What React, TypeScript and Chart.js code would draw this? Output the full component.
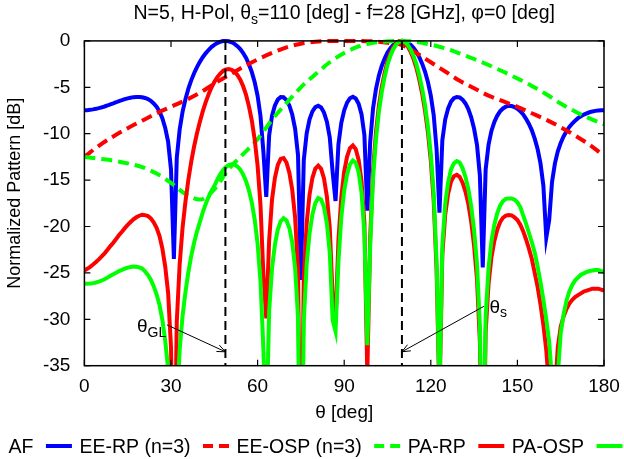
import React, { useEffect, useRef } from "react";
import { Chart, registerables } from "chart.js";

Chart.register(...registerables);

const FONT = "'Liberation Sans', Arial, Helvetica, sans-serif";

// theta grid [deg] for the array-factor based curves
const THETA = [
  0, 1, 2, 3, 4, 5, 6, 7, 8, 9,
  10, 11, 12, 13, 14, 15, 16, 17, 18, 19,
  20, 21, 22, 23, 24, 25, 26, 27, 28, 29,
  30, 31, 32, 33, 34, 35, 36, 37, 38, 39,
  40, 41, 42, 43, 44, 45, 46, 47, 48, 49,
  50, 51, 52, 53, 54, 55, 56, 57, 58, 59,
  60, 61, 62, 63, 64, 65, 66, 67, 68, 69,
  70, 71, 72, 73, 74, 75, 76, 77, 78, 79,
  80, 81, 82, 83, 84, 85, 86, 87, 88, 89,
  90, 91, 92, 93, 94, 95, 96, 97, 98, 99,
  100, 101, 102, 103, 104, 105, 106, 107, 108, 109,
  110, 111, 112, 113, 114, 115, 116, 117, 118, 119,
  120, 121, 122, 123, 124, 125, 126, 127, 128, 129,
  130, 131, 132, 133, 134, 135, 136, 137, 138, 139,
  140, 141, 142, 143, 144, 145, 146, 147, 148, 149,
  150, 151, 152, 153, 154, 155, 156, 157, 158, 159,
  160, 161, 162, 163, 164, 165, 166, 167, 168, 169,
  170, 171, 172, 173, 174, 175, 176, 177, 178, 179, 180,
];

// AF [dB]
const AF = [
  -7.47, -7.46, -7.43, -7.38, -7.32, -7.25, -7.16, -7.07, -6.96, -6.83,
  -6.73, -6.61, -6.48, -6.39, -6.28, -6.19, -6.12, -6.06, -6.04, -6.04,
  -6.07, -6.15, -6.27, -6.46, -6.74, -7.1, -7.6, -8.34, -9.38, -10.86,
  -13.85, -23.5, -12.6, -9.55, -7.65, -6.29, -5.17, -4.25, -3.48, -2.83,
  -2.26, -1.76, -1.34, -0.98, -0.67, -0.43, -0.24, -0.11, -0.02, 0,
  -0.04, -0.15, -0.32, -0.57, -0.89, -1.31, -1.84, -2.52, -3.36, -4.46,
  -5.92, -8.1, -11.9, -16.8, -10.2, -8.05, -6.95, -6.32, -6.06, -6.07,
  -6.38, -6.96, -7.93, -9.48, -12.3, -25.75, -12.85, -9.95, -8.44, -7.59,
  -7.13, -6.99, -7.18, -7.72, -8.71, -10.4, -14.15, -17.25, -11.15, -8.82,
  -7.47, -6.65, -6.18, -6.03, -6.21, -6.77, -7.9, -10.15, -18.3, -10.9,
  -7.25, -5.2, -3.75, -2.7, -1.9, -1.25, -0.79, -0.44, -0.19, -0.05,
  0, -0.05, -0.19, -0.42, -0.75, -1.18, -1.75, -2.45, -3.32, -4.43,
  -5.9, -7.98, -11.65, -18.5, -10.7, -8.45, -7.27, -6.55, -6.18, -6.04,
  -6.08, -6.33, -6.74, -7.34, -8.23, -9.47, -11.2, -14.5, -24.4, -13.85,
  -11.2, -9.7, -8.75, -8.07, -7.59, -7.28, -7.09, -7.0, -7.02, -7.13,
  -7.31, -7.58, -7.93, -8.39, -8.95, -9.64, -10.53, -11.65, -13.2, -15.6,
  -21.2, -19.35, -15.2, -13.2, -11.9, -11.0, -10.3, -9.73, -9.27, -8.9,
  -8.59, -8.33, -8.12, -7.94, -7.81, -7.69, -7.6, -7.54, -7.5, -7.48, -7.47,
];

// PA-RP [dB]
const PA_RP = [
  -24.73, -24.56, -24.35, -24.1, -23.83, -23.54, -23.22, -22.89, -22.51, -22.11,
  -21.75, -21.34, -20.92, -20.56, -20.18, -19.83, -19.52, -19.23, -19.01, -18.84,
  -18.73, -18.77, -18.87, -19.13, -19.55, -20.15, -21.01, -22.36, -24.32, -27.14,
  -33.0, -52.2, -30.28, -24.07, -20.15, -17.33, -14.98, -13.03, -11.38, -9.96,
  -8.72, -7.6, -6.62, -5.78, -5.04, -4.43, -3.93, -3.54, -3.24, -3.08,
  -3.03, -3.11, -3.31, -3.68, -4.18, -4.89, -5.82, -7.05, -8.58, -10.66,
  -13.43, -17.68, -25.15, -29.9, -21.5, -17.08, -14.75, -13.37, -12.71, -12.62,
  -13.1, -14.19, -16.04, -19.06, -24.61, -51.4, -25.54, -19.65, -16.55, -14.75,
  -13.76, -13.44, -13.79, -14.82, -16.78, -20.12, -27.59, -30.3, -21.52, -16.82,
  -14.08, -12.46, -11.55, -11.27, -11.66, -12.81, -15.09, -19.62, -35.95, -21.17,
  -13.9, -9.86, -7.02, -4.98, -3.44, -2.2, -1.33, -0.69, -0.26, -0.03,
  0, -0.2, -0.59, -1.17, -1.93, -2.9, -4.16, -5.67, -7.52, -9.85,
  -12.9, -17.2, -24.68, -38.52, -23.06, -18.7, -16.47, -15.17, -14.58, -14.43,
  -14.66, -15.28, -16.23, -17.56, -19.48, -22.08, -25.68, -32.41, -52.34, -31.37,
  -26.2, -23.34, -21.58, -20.35, -19.54, -19.06, -18.82, -18.77, -18.8, -19.0,
  -19.3, -19.8, -20.5, -21.4, -22.4, -23.5, -25.0, -26.5, -28.4, -30.6,
  -33.3, -37.5, -48.0, -38.0, -33.0, -30.8, -29.7, -28.9, -28.3, -27.9,
  -27.6, -27.4, -27.2, -27.0, -26.9, -26.8, -26.7, -26.7, -26.7, -26.8, -26.9,
];

// PA-OSP [dB]
const PA_OSP = [
  -26.13, -26.16, -26.15, -26.1, -26.03, -25.94, -25.82, -25.69, -25.51, -25.31,
  -25.15, -24.98, -24.8, -24.68, -24.54, -24.43, -24.36, -24.31, -24.33, -24.4,
  -24.53, -24.84, -25.21, -25.74, -26.43, -27.3, -28.43, -30.05, -32.28, -35.37,
  -41.5, -60.94, -39.28, -33.32, -29.65, -27.08, -24.94, -23.2, -21.76, -20.55,
  -19.52, -18.48, -17.59, -16.83, -16.18, -15.65, -14.98, -14.41, -13.94, -13.6,
  -13.38, -13.29, -13.33, -13.53, -13.87, -14.41, -15.12, -16.12, -17.43, -19.28,
  -21.83, -25.88, -33.16, -42.64, -29.12, -24.5, -21.94, -20.32, -19.43, -19.1,
  -19.35, -20.16, -21.74, -24.48, -29.76, -56.3, -30.18, -24.06, -20.72, -18.69,
  -17.46, -16.94, -17.08, -17.91, -19.66, -22.8, -30.1, -31.3, -23.82, -19.0,
  -16.13, -14.37, -13.31, -12.89, -13.13, -14.14, -16.32, -20.76, -32.8, -22.12,
  -14.75, -10.61, -7.67, -5.53, -3.89, -2.55, -1.61, -0.9, -0.4, -0.1,
  0, -0.12, -0.43, -0.93, -1.61, -2.5, -3.7, -5.15, -6.94, -9.21,
  -12.2, -16.41, -23.8, -37.55, -22.0, -17.55, -15.24, -13.86, -13.19, -12.96,
  -13.11, -13.71, -14.64, -15.95, -17.85, -20.43, -24.02, -30.74, -50.66, -29.68,
  -24.5, -21.62, -19.84, -18.59, -17.76, -17.26, -17.02, -16.97, -16.97, -17.1,
  -17.4, -17.9, -18.8, -19.7, -20.7, -21.7, -22.8, -24.3, -26.0, -27.9,
  -30.0, -32.4, -36.5, -48.0, -36.0, -31.5, -29.5, -28.0, -27.0, -26.3,
  -25.8, -25.5, -25.2, -25.05, -24.9, -24.8, -24.75, -24.7, -24.7, -24.8, -24.9,
];

// element patterns, sampled every 5 deg
const EE_THETA = [
  0, 5, 10, 15, 20, 25, 30, 35, 40, 45, 50, 55, 60, 65, 70, 75, 80, 85, 90,
  95, 100, 105, 110, 115, 120, 125, 130, 135, 140, 145, 150, 155, 160, 165, 170, 175, 180,
];
const EE_RP = [
  -12.5, -11.3, -10.3, -9.4, -8.6, -7.8, -7.1, -6.4, -5.6, -4.6, -3.7, -2.8, -2.0, -1.3, -0.7, -0.3, -0.1, 0, 0,
  0, -0.05, -0.2, -0.45, -1.3, -2.3, -3.3, -4.3, -5.1, -5.9, -6.5, -7.1, -7.8, -8.5, -9.3, -10.2, -11.2, -12.4,
];
const EE_OSP = [
  -12.5, -12.7, -12.9, -13.2, -13.6, -14.3, -15.3, -16.5, -17.1, -16.0, -13.8, -12.2, -10.6, -8.5, -6.7, -5.0, -3.6, -2.3, -1.3,
  -0.6, -0.2, -0.05, 0, -0.1, -0.4, -0.8, -1.35, -1.95, -2.6, -3.3, -4.05, -4.85, -5.75, -6.75, -7.6, -8.35, -9.0,
];

const X_TICKS = [0, 30, 60, 90, 120, 150, 180];
const Y_TICKS = [0, -5, -10, -15, -20, -25, -30, -35];

const THETA_GL = 48.85;
const THETA_S = 110;

const SERIES = [
  { label: "AF", xs: THETA, ys: AF, color: "#0000ff", dash: [] as number[] },
  { label: "EE-RP (n=3)", xs: EE_THETA, ys: EE_RP, color: "#ff0000", dash: [11, 6] },
  { label: "EE-OSP (n=3)", xs: EE_THETA, ys: EE_OSP, color: "#00ff00", dash: [11, 6] },
  { label: "PA-RP", xs: THETA, ys: PA_RP, color: "#ff0000", dash: [] as number[] },
  { label: "PA-OSP", xs: THETA, ys: PA_OSP, color: "#00ff00", dash: [] as number[] },
];

// marker annotations (data coordinates)
const MARKERS = [
  { theta: THETA_GL, sub: "GL", label: [18.2, -31.4], tail: [28.6, -30.6], tipY: -33.5 },
  { theta: THETA_S, sub: "s", label: [140.3, -29.3], tail: [138.4, -28.6], tipY: -33.5 },
];

type Run = { t: string; sub?: boolean };

function drawRuns(ctx: CanvasRenderingContext2D, runs: Run[], x: number, y: number, size: number, subSize: number, subDy: number, align: "left" | "center") {
  const widths = runs.map((r) => {
    ctx.font = `${r.sub ? subSize : size}px ${FONT}`;
    return ctx.measureText(r.t).width;
  });
  const total = widths.reduce((a, b) => a + b, 0);
  let cx = align === "center" ? x - total / 2 : x;
  ctx.textAlign = "left";
  ctx.textBaseline = "alphabetic";
  runs.forEach((r, i) => {
    ctx.font = `${r.sub ? subSize : size}px ${FONT}`;
    ctx.fillText(r.t, cx, r.sub ? y + subDy : y);
    cx += widths[i];
  });
}

const decorPlugin = {
  id: "decor",
  afterDatasetsDraw(chart: any) {
    const { ctx, chartArea, scales } = chart;
    const { left, right, top, bottom } = chartArea;
    const xs = scales.x;
    const ys = scales.y;
    ctx.save();
    ctx.setLineDash([]);
    ctx.strokeStyle = "#000";
    ctx.fillStyle = "#000";
    // border
    ctx.lineWidth = 1.5;
    ctx.strokeRect(left, top, right - left, bottom - top);
    // inward (mirrored) tick marks
    const tl = 6;
    ctx.lineWidth = 1.2;
    ctx.beginPath();
    X_TICKS.forEach((t) => {
      const px = xs.getPixelForValue(t);
      ctx.moveTo(px, bottom);
      ctx.lineTo(px, bottom - tl);
      ctx.moveTo(px, top);
      ctx.lineTo(px, top + tl);
    });
    Y_TICKS.forEach((v) => {
      const py = ys.getPixelForValue(v);
      ctx.moveTo(left, py);
      ctx.lineTo(left + tl, py);
      ctx.moveTo(right, py);
      ctx.lineTo(right - tl, py);
    });
    ctx.stroke();

    // annotation arrows + labels
    MARKERS.forEach((m) => {
      const tx = xs.getPixelForValue(m.tail[0]);
      const ty = ys.getPixelForValue(m.tail[1]);
      const hx = xs.getPixelForValue(m.theta);
      const hy = ys.getPixelForValue(m.tipY);
      ctx.lineWidth = 1;
      ctx.beginPath();
      ctx.moveTo(tx, ty);
      ctx.lineTo(hx, hy);
      const ang = Math.atan2(hy - ty, hx - tx);
      const L = 9;
      const a = 0.4;
      ctx.moveTo(hx - L * Math.cos(ang - a), hy - L * Math.sin(ang - a));
      ctx.lineTo(hx, hy);
      ctx.lineTo(hx - L * Math.cos(ang + a), hy - L * Math.sin(ang + a));
      ctx.stroke();
      const lx = xs.getPixelForValue(m.label[0]);
      const ly = ys.getPixelForValue(m.label[1]);
      drawRuns(ctx, [{ t: "θ" }, { t: m.sub, sub: true }], lx, ly, 19, 14, 4.5, "left");
    });
    ctx.restore();
  },
  afterDraw(chart: any) {
    const { ctx, chartArea } = chart;
    const { left, right, top, bottom } = chartArea;
    const cx = (left + right) / 2;
    ctx.save();
    ctx.fillStyle = "#000";
    // title
    drawRuns(
      ctx,
      [{ t: "N=5, H-Pol, θ" }, { t: "s", sub: true }, { t: "=110 [deg] - f=28 [GHz], φ=0 [deg]" }],
      cx, 19, 19.5, 14, 5, "center"
    );
    // x-axis title
    drawRuns(ctx, [{ t: "θ [deg]" }], cx, 418, 19, 14, 0, "center");
    // y-axis title
    ctx.save();
    ctx.translate(15, (top + bottom) / 2 - 10);
    ctx.rotate(-Math.PI / 2);
    ctx.font = `18px ${FONT}`;
    ctx.textAlign = "center";
    ctx.textBaseline = "middle";
    ctx.fillText("Normalized Pattern [dB]", 0, 0);
    ctx.restore();

    // legend: text followed by line sample
    const size = 19.5;
    const yBase = 453;
    const yLine = 446;
    let x = 8.5;
    ctx.textAlign = "left";
    ctx.textBaseline = "alphabetic";
    SERIES.forEach((s) => {
      ctx.font = `${size}px ${FONT}`;
      ctx.fillStyle = "#000";
      ctx.fillText(s.label, x, yBase);
      x += ctx.measureText(s.label).width + 12.5;
      ctx.strokeStyle = s.color;
      ctx.lineWidth = 4;
      ctx.setLineDash(s.dash.length ? [10, 6] : []);
      ctx.beginPath();
      ctx.moveTo(x, yLine);
      ctx.lineTo(x + 26, yLine);
      ctx.stroke();
      x += 26 + 7.5;
    });
    ctx.restore();
  },
};

export default function App() {
  const ref = useRef<HTMLCanvasElement | null>(null);

  useEffect(() => {
    if (!ref.current) return;
    const datasets: any[] = SERIES.map((s, i) => ({
      label: s.label,
      data: s.xs.map((x, k) => ({ x, y: s.ys[k] })),
      borderColor: s.color,
      backgroundColor: s.color,
      borderWidth: 4,
      borderDash: s.dash,
      pointRadius: 0,
      pointHoverRadius: 0,
      fill: false,
      tension: 0,
      cubicInterpolationMode: s.dash.length ? "monotone" : "default",
      order: SERIES.length - i,
      clip: { left: 0, top: 3, right: 0, bottom: 0 },
    }));
    [THETA_GL, THETA_S].forEach((t) => {
      datasets.push({
        label: "",
        data: [
          { x: t, y: Y_TICKS[0] },
          { x: t, y: Y_TICKS[Y_TICKS.length - 1] },
        ],
        borderColor: "#000",
        borderWidth: 2,
        borderDash: [9, 5],
        pointRadius: 0,
        fill: false,
        order: 0,
      });
    });

    const chart = new Chart(ref.current, {
      type: "line",
      data: { datasets },
      options: {
        animation: false,
        responsive: false,
        events: [],
        layout: { padding: { left: 0, right: 20, top: 40.9, bottom: 0 } },
        plugins: {
          legend: { display: false },
          title: { display: false },
          tooltip: { enabled: false },
        },
        scales: {
          x: {
            type: "linear",
            min: 0,
            max: 180,
            afterBuildTicks: (s: any) => {
              s.ticks = X_TICKS.map((v) => ({ value: v }));
            },
            afterFit: (s: any) => {
              s.height = 93.3;
              s.paddingLeft = 0;
              s.paddingRight = 0;
            },
            ticks: {
              font: { family: FONT, size: 19 },
              color: "#000",
              padding: 10,
              maxRotation: 0,
              autoSkip: false,
            },
            grid: { display: false, drawTicks: false },
            border: { display: false },
          },
          y: {
            type: "linear",
            min: -35,
            max: 0,
            afterBuildTicks: (s: any) => {
              s.ticks = Y_TICKS.map((v) => ({ value: v }));
            },
            afterFit: (s: any) => {
              s.width = 84.4;
              s.paddingTop = 0;
              s.paddingBottom = 0;
            },
            ticks: {
              font: { family: FONT, size: 19 },
              color: "#000",
              padding: 14,
              autoSkip: false,
            },
            grid: { display: false, drawTicks: false },
            border: { display: false },
          },
        },
      },
      plugins: [decorPlugin],
    });
    return () => chart.destroy();
  }, []);

  return (
    <div style={{ position: "absolute", left: 0, top: 0, width: 624, height: 459, background: "#fff" }}>
      <canvas ref={ref} width={624} height={459} style={{ display: "block" }} />
    </div>
  );
}
